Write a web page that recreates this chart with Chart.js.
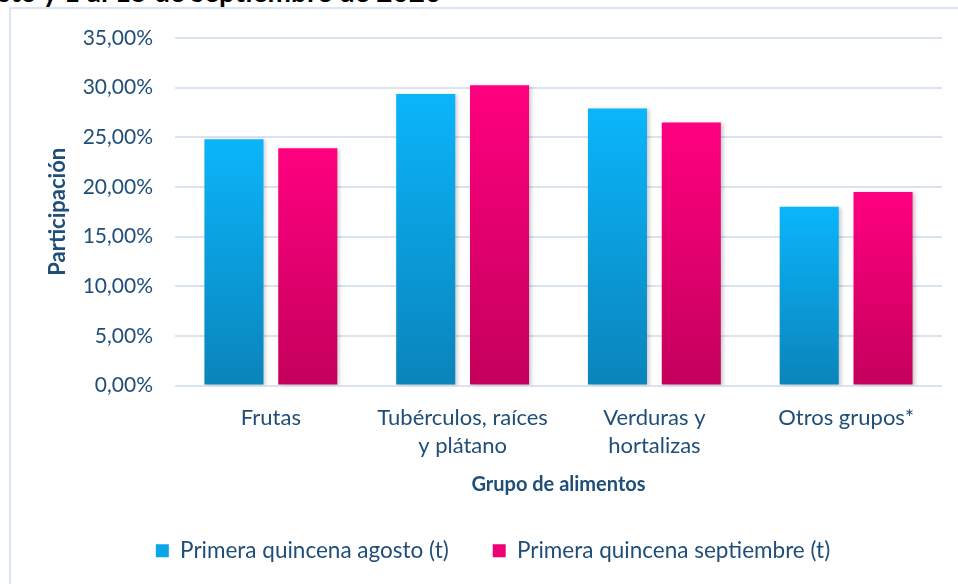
<!DOCTYPE html>
<html>
<head>
<meta charset="utf-8">
<script src="https://cdn.jsdelivr.net/npm/chart.js@4.4.0/dist/chart.umd.min.js"></script>
<style>
  body { margin: 0; width: 958px; height: 584px; overflow: hidden; background: #fff; position: relative; font-family: Lato, sans-serif; }
  #frame { position: absolute; left: 9px; top: 7px; width: 980px; height: 620px; border-left: 2px solid #dce6f2; border-top: 2px solid #dce6f2; }
  #title { position: absolute; left: -2px; top: -26px; font: bold 28px Lato, sans-serif; color: #000; white-space: nowrap; }
  #wrap { position: absolute; left: 0; top: 0; width: 958px; height: 584px; }
</style>
</head>
<body>
<div id="frame"></div>
<div id="title">sto y 1 al 15 de septiembre de 2020</div>
<div id="wrap"><canvas id="chart"></canvas></div>
<script>
const categories = ["Frutas", ["Tubérculos, raíces", "y plátano"], ["Verduras y", "hortalizas"], "Otros grupos*"];
const agosto = [24.8, 29.35, 27.9, 18.0];
const septiembre = [23.9, 30.25, 26.5, 19.5];
const yTicks = [0, 5, 10, 15, 20, 25, 30, 35];

const textColor = "#1f4e79";
const gridColor = "#dae3f0";

// vertical gradient for each bar, from its top to the axis
function barGradient(top, bottom) {
    return function (ctx) {
        const chart = ctx.chart;
        const y = chart.scales.y;
        if (!y || !chart.chartArea) return top;
        const y0 = y.getPixelForValue(ctx.raw);
        const y1 = y.getPixelForValue(0);
        const g = chart.ctx.createLinearGradient(0, y0, 0, y1);
        g.addColorStop(0, top);
        g.addColorStop(1, bottom);
        return g;
    };
}

// soft shadow behind the bars
const barShadow = {
    id: "barShadow",
    beforeDatasetsDraw(chart) {
        const c = chart.ctx;
        c.save();
        c.shadowColor = "rgba(0,0,0,0.22)";
        c.shadowBlur = 4;
        c.shadowOffsetX = 2;
        c.shadowOffsetY = 1;
    },
    afterDatasetsDraw(chart) {
        chart.ctx.restore();
    }
};

const ctx = document.getElementById("chart").getContext("2d");
new Chart(ctx, {
    type: "bar",
    data: {
        labels: categories,
        datasets: [{
            label: "Primera quincena agosto (t)",
            data: agosto,
            backgroundColor: barGradient("#0bb5fa", "#0a84bb"),
            borderWidth: 0
        }, {
            label: "Primera quincena septiembre (t)",
            data: septiembre,
            backgroundColor: barGradient("#ff0080", "#c4005b"),
            borderWidth: 0
        }]
    },
    options: {
        responsive: true,
        maintainAspectRatio: false,
        animation: false,
        categoryPercentage: 0.77,
        barPercentage: 0.8,
        layout: { padding: { top: 38, right: 16, bottom: 12, left: 44 } },
        plugins: {
            tooltip: { enabled: false },
            legend: {
                position: "bottom",
                labels: {
                    boxWidth: 13,
                    boxHeight: 13,
                    padding: 44,
                    color: textColor,
                    font: { family: "Lato", size: 22.5 },
                    generateLabels(chart) {
                        const items = Chart.defaults.plugins.legend.labels.generateLabels(chart);
                        const fills = ["#0aa6e8", "#ee0077"];
                        items.forEach((it, i) => { it.fillStyle = fills[i]; it.strokeStyle = fills[i]; it.lineWidth = 0; });
                        return items;
                    }
                }
            }
        },
        scales: {
            y: {
                min: 0,
                max: 35,
                afterBuildTicks(scale) { scale.ticks = yTicks.map(v => ({ value: v })); },
                afterFit(scale) { scale.width = 131; },
                ticks: {
                    color: textColor,
                    padding: 22,
                    font: { family: "Lato", size: 21 },
                    callback: v => v.toFixed(2).replace(".", ",") + "%"
                },
                grid: { color: gridColor, lineWidth: 2, drawTicks: false },
                border: { display: false },
                title: {
                    display: true,
                    text: "Participación",
                    color: textColor,
                    font: { family: "Lato", size: 22, weight: "bold" },
                    padding: { top: 1, bottom: 0 }
                }
            },
            x: {
                afterFit(scale) { scale.height = 110; },
                grid: { display: false },
                border: { display: false },
                ticks: {
                    color: textColor,
                    padding: 10,
                    maxRotation: 0,
                    font: { family: "Lato", size: 22, lineHeight: 1.27 }
                },
                title: {
                    display: true,
                    text: "Grupo de alimentos",
                    color: textColor,
                    font: { family: "Lato", size: 20, weight: "bold", lineHeight: 1.0 },
                    padding: { top: 0, bottom: 1 }
                }
            }
        }
    },
    plugins: [barShadow]
});
</script>
</body>
</html>
